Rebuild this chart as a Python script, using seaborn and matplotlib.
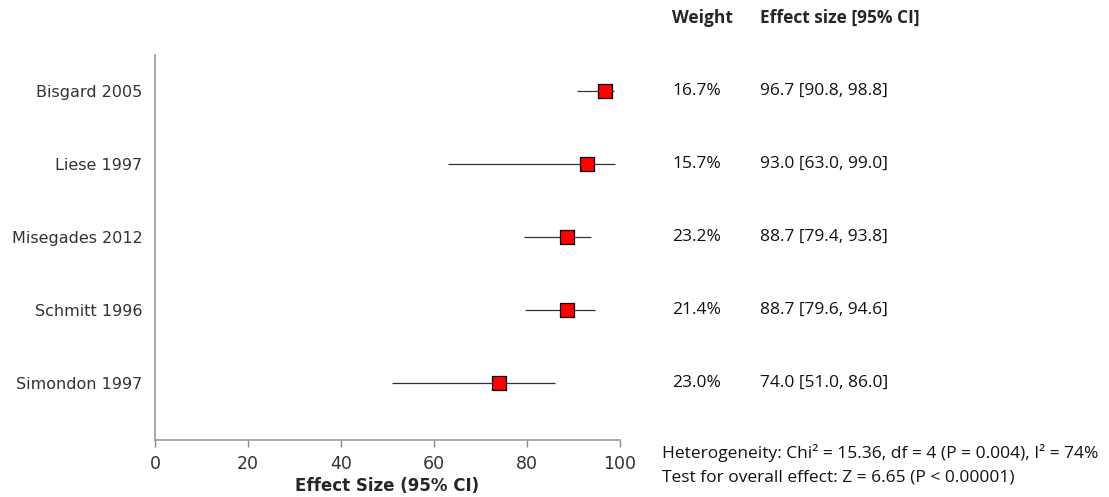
import matplotlib.pyplot as plt
import pandas as pd
import seaborn as sns

# Data
studies = ["Bisgard 2005", "Liese 1997", "Misegades 2012", "Schmitt 1996", "Simondon 1997"]
effect = [96.7, 93.0, 88.7, 88.7, 74.0]
ci_low = [90.8, 63.0, 79.4, 79.6, 51.0]
ci_high = [98.8, 99.0, 93.8, 94.6, 86.0]
weights = ["16.7%", "15.7%", "23.2%", "21.4%", "23.0%"]
x_ticks = [0, 20, 40, 60, 80, 100]

df = pd.DataFrame({
    "study": studies,
    "effect": effect,
    "low": ci_low,
    "high": ci_high,
    "weight": weights,
})
df["pos"] = range(len(df))

sns.set_style("white")
side_font = ["Open Sans", "DejaVu Sans"]

fig = plt.figure(figsize=(11.09, 4.97), dpi=100)
ax = fig.add_axes([0.1398, 0.1147, 0.4193, 0.7743])

# Confidence intervals
ax.hlines(df["pos"], df["low"], df["high"], color="#333333", linewidth=0.9, zorder=1)

# Point estimates
sns.scatterplot(
    data=df,
    x="effect",
    y="pos",
    marker="s",
    s=110,
    color="#ff0000",
    edgecolor="black",
    linewidth=0.9,
    zorder=2,
    ax=ax,
)

ax.set_xlim(0, 100)
ax.set_ylim(4.78, -0.49)
ax.set_xticks(x_ticks)
ax.set_xticklabels([str(t) for t in x_ticks], fontsize=12.5, color="#333333")
ax.set_yticks(df["pos"])
ax.set_yticklabels(df["study"], fontsize=11.5, color="#333333")
ax.tick_params(axis="y", length=0, pad=9)
ax.tick_params(axis="x", length=5, width=1, color="#888888", direction="out", pad=6, bottom=True)

ax.set_xlabel("Effect Size (95% CI)", fontsize=12, fontweight="bold", labelpad=3)
ax.set_ylabel("")

for side in ["top", "right"]:
    ax.spines[side].set_visible(False)
for side in ["left", "bottom"]:
    ax.spines[side].set_color("#999999")
    ax.spines[side].set_linewidth(1.2)

# Side columns (weight and effect size text)
trans = ax.get_yaxis_transform()
for _, row in df.iterrows():
    ax.text(1.112, row["pos"], row["weight"], transform=trans, va="center", ha="left",
            fontsize=12.5, family=side_font, color="#111111")
    ax.text(1.301, row["pos"], f"{row['effect']:.1f} [{row['low']:.1f}, {row['high']:.1f}]",
            transform=trans, va="center", ha="left", fontsize=12.5, family=side_font, color="#111111")

fig.text(672 / 1109, 1 - 18 / 497, "Weight", fontsize=12.5, fontweight="bold",
         family=side_font, va="center", ha="left")
fig.text(760 / 1109, 1 - 18 / 497, "Effect size [95% CI]", fontsize=12.5, fontweight="bold",
         family=side_font, va="center", ha="left")

fig.text(662 / 1109, 1 - 453 / 497, "Heterogeneity: Chi² = 15.36, df = 4 (P = 0.004), I² = 74%",
         fontsize=12.5, family=side_font, va="center", ha="left", color="#111111")
fig.text(662 / 1109, 1 - 478 / 497, "Test for overall effect: Z = 6.65 (P < 0.00001)",
         fontsize=12.5, family=side_font, va="center", ha="left", color="#111111")

fig.savefig("out.png", dpi=100)
